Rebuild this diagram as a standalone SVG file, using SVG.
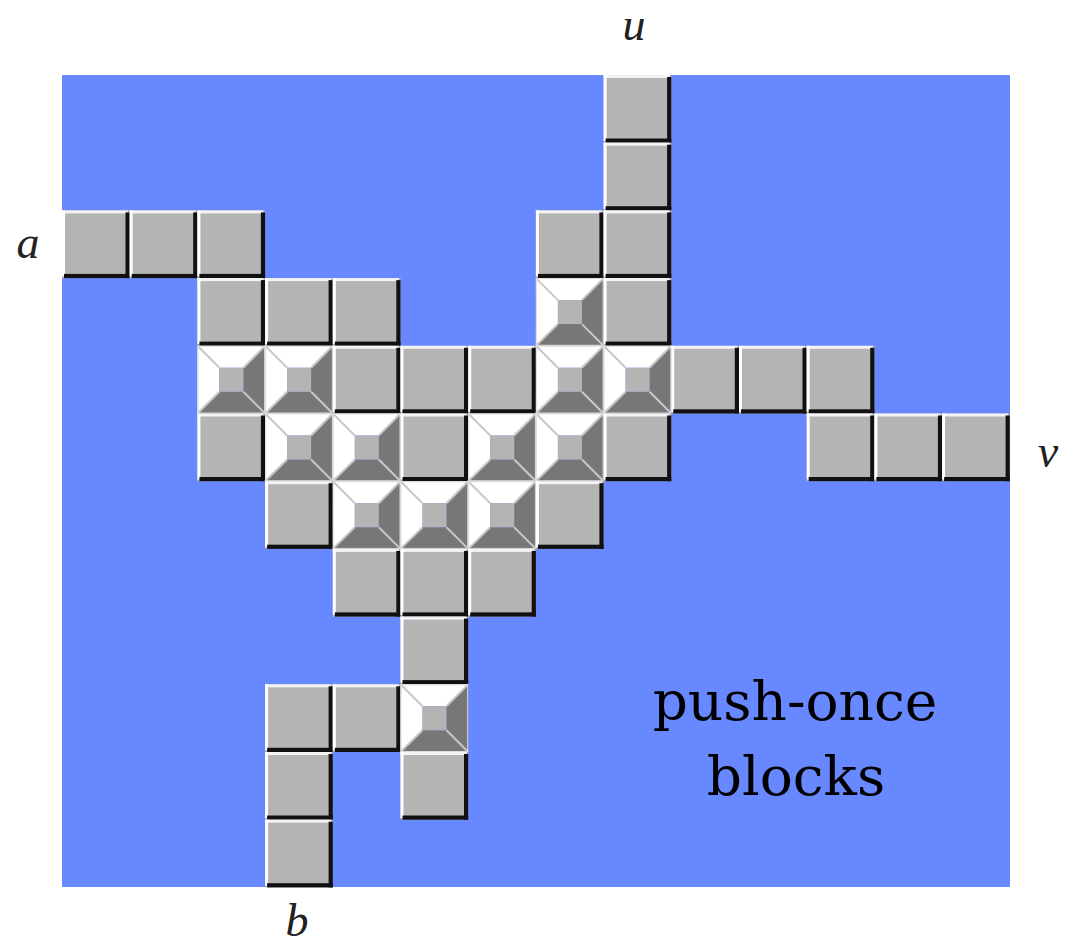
<svg xmlns="http://www.w3.org/2000/svg" xmlns:xlink="http://www.w3.org/1999/xlink" width="1067" height="949" viewBox="0 0 1067 949">
<style>
.lbl{font-family:"Liberation Serif","Times New Roman",serif;font-style:italic;font-size:46px;fill:#222;text-anchor:middle}
.cap{font-family:"DejaVu Serif","Liberation Serif",serif;font-size:55px;fill:#000;text-anchor:middle}
</style>
<defs>
<g id="plain">
<rect width="67.7" height="67.7" fill="#b4b4b4"/>
<rect x="0" y="0" width="66" height="3" fill="#f4f4f4"/>
<rect x="0" y="0" width="3" height="66" fill="#ffffff"/>
<rect x="63.5" y="2" width="4.2" height="65.7" fill="#111111"/>
<rect x="2" y="63.5" width="65.7" height="4.2" fill="#111111"/>
</g>
<g id="pyr">
<polygon points="0,0 67.7,0 46,22 22,22" fill="#ffffff"/>
<polygon points="0,0 22,22 22,46 0,67.7" fill="#ffffff"/>
<polygon points="67.7,0 67.7,67.7 46,46 46,22" fill="#777777"/>
<polygon points="0,67.7 67.7,67.7 46,46 22,46" fill="#777777"/>
<rect x="22" y="22" width="24" height="24" fill="#b4b4b4"/>
<g stroke="#c8c8c8" stroke-width="2">
<line x1="0" y1="0" x2="22" y2="22"/>
<line x1="67.7" y1="0" x2="46" y2="22"/>
<line x1="0" y1="67.7" x2="22" y2="46"/>
<line x1="67.7" y1="67.7" x2="46" y2="46"/>
</g>
<rect x="0.5" y="0.5" width="66.7" height="66.7" fill="none" stroke="#dddddd" stroke-width="1"/>
</g>
</defs>
<rect id="field" x="62" y="75" width="948" height="812" fill="#6888ff"/>
<g id="blocks">
<use id="b-r0-c8" xlink:href="#plain" x="603.6" y="75"/>
<use id="b-r1-c8" xlink:href="#plain" x="603.6" y="142.7"/>
<use id="b-r2-c0" xlink:href="#plain" x="62" y="210.4"/>
<use id="b-r2-c1" xlink:href="#plain" x="129.7" y="210.4"/>
<use id="b-r2-c2" xlink:href="#plain" x="197.4" y="210.4"/>
<use id="b-r2-c7" xlink:href="#plain" x="535.9" y="210.4"/>
<use id="b-r2-c8" xlink:href="#plain" x="603.6" y="210.4"/>
<use id="b-r3-c2" xlink:href="#plain" x="197.4" y="278.1"/>
<use id="b-r3-c3" xlink:href="#plain" x="265.1" y="278.1"/>
<use id="b-r3-c4" xlink:href="#plain" x="332.8" y="278.1"/>
<use id="b-r3-c7" xlink:href="#pyr" x="535.9" y="278.1"/>
<use id="b-r3-c8" xlink:href="#plain" x="603.6" y="278.1"/>
<use id="b-r4-c2" xlink:href="#pyr" x="197.4" y="345.8"/>
<use id="b-r4-c3" xlink:href="#pyr" x="265.1" y="345.8"/>
<use id="b-r4-c4" xlink:href="#plain" x="332.8" y="345.8"/>
<use id="b-r4-c5" xlink:href="#plain" x="400.5" y="345.8"/>
<use id="b-r4-c6" xlink:href="#plain" x="468.2" y="345.8"/>
<use id="b-r4-c7" xlink:href="#pyr" x="535.9" y="345.8"/>
<use id="b-r4-c8" xlink:href="#pyr" x="603.6" y="345.8"/>
<use id="b-r4-c9" xlink:href="#plain" x="671.3" y="345.8"/>
<use id="b-r4-c10" xlink:href="#plain" x="739" y="345.8"/>
<use id="b-r4-c11" xlink:href="#plain" x="806.7" y="345.8"/>
<use id="b-r5-c2" xlink:href="#plain" x="197.4" y="413.5"/>
<use id="b-r5-c3" xlink:href="#pyr" x="265.1" y="413.5"/>
<use id="b-r5-c4" xlink:href="#pyr" x="332.8" y="413.5"/>
<use id="b-r5-c5" xlink:href="#plain" x="400.5" y="413.5"/>
<use id="b-r5-c6" xlink:href="#pyr" x="468.2" y="413.5"/>
<use id="b-r5-c7" xlink:href="#pyr" x="535.9" y="413.5"/>
<use id="b-r5-c8" xlink:href="#plain" x="603.6" y="413.5"/>
<use id="b-r5-c11" xlink:href="#plain" x="806.7" y="413.5"/>
<use id="b-r5-c12" xlink:href="#plain" x="874.4" y="413.5"/>
<use id="b-r5-c13" xlink:href="#plain" x="942.1" y="413.5"/>
<use id="b-r6-c3" xlink:href="#plain" x="265.1" y="481.2"/>
<use id="b-r6-c4" xlink:href="#pyr" x="332.8" y="481.2"/>
<use id="b-r6-c5" xlink:href="#pyr" x="400.5" y="481.2"/>
<use id="b-r6-c6" xlink:href="#pyr" x="468.2" y="481.2"/>
<use id="b-r6-c7" xlink:href="#plain" x="535.9" y="481.2"/>
<use id="b-r7-c4" xlink:href="#plain" x="332.8" y="548.9"/>
<use id="b-r7-c5" xlink:href="#plain" x="400.5" y="548.9"/>
<use id="b-r7-c6" xlink:href="#plain" x="468.2" y="548.9"/>
<use id="b-r8-c5" xlink:href="#plain" x="400.5" y="616.6"/>
<use id="b-r9-c3" xlink:href="#plain" x="265.1" y="684.3"/>
<use id="b-r9-c4" xlink:href="#plain" x="332.8" y="684.3"/>
<use id="b-r9-c5" xlink:href="#pyr" x="400.5" y="684.3"/>
<use id="b-r10-c3" xlink:href="#plain" x="265.1" y="752"/>
<use id="b-r10-c5" xlink:href="#plain" x="400.5" y="752"/>
<use id="b-r11-c3" xlink:href="#plain" x="265.1" y="819.7"/>
</g>
<g id="labels">
<text class="lbl" x="28" y="258">a</text>
<text class="lbl" x="634" y="40">u</text>
<text class="lbl" x="1048" y="467">v</text>
<text class="lbl" x="297" y="936">b</text>
</g>
<g id="caption">
<text class="cap" x="795" y="720">push-once</text>
<text class="cap" x="796" y="795">blocks</text>
</g>
</svg>
